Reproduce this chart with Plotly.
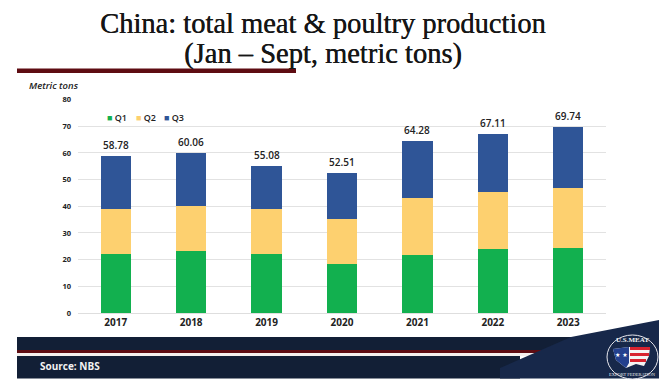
import plotly.graph_objects as go

years = ["2017", "2018", "2019", "2020", "2021", "2022", "2023"]
q1 = [22.2, 23.2, 22.2, 18.3, 21.7, 23.8, 24.3]
q2 = [16.8, 16.8, 16.8, 16.9, 21.3, 21.7, 22.4]
totals = [58.78, 60.06, 55.08, 52.51, 64.28, 67.11, 69.74]
q3 = [round(t - a - b, 2) for t, a, b in zip(totals, q1, q2)]
y_ticks = [0, 10, 20, 30, 40, 50, 60, 70, 80]

W, H = 670, 387
NAVY = "#121f36"
NAVY2 = "#17284a"
MAROON = "#5e0c12"
C1, C2, C3 = "#12b04f", "#fdd06f", "#2f5597"


def X(p):
    return p / W


def Y(p):
    return 1 - p / H


def rect(x0, y0, x1, y1, color):
    return dict(type="rect", xref="paper", yref="paper", x0=X(x0), x1=X(x1), y0=Y(y1), y1=Y(y0),
                fillcolor=color, line_width=0, layer="above")


def poly(points, color):
    path = "M " + " L ".join(f"{X(a):.5f} {Y(b):.5f}" for a, b in points) + " Z"
    return dict(type="path", xref="paper", yref="paper", path=path, fillcolor=color,
                line_width=0, layer="above")


def label(text, px, py, font, xanchor="center", angle=0):
    return dict(text=text, x=X(px), y=Y(py), xref="paper", yref="paper", xanchor=xanchor, yanchor="middle",
                showarrow=False, font=font, textangle=angle, borderpad=0)


fig = go.Figure()
for name, vals, col in [("Q1", q1, C1), ("Q2", q2, C2), ("Q3", q3, C3)]:
    fig.add_trace(go.Bar(x=years, y=vals, name=name, marker=dict(color=col, line_width=0), width=0.4,
                         showlegend=False))

shapes = [
    rect(17, 68.5, 296, 73, MAROON),
    rect(17, 337, 571, 350, NAVY),
    rect(17, 350, 556, 353, MAROON),
    rect(17, 353, 545, 356, "#f4f0ee"),
    rect(17, 356, 520, 378.5, NAVY),
    poly([(571, 337), (659, 320), (659, 378.5), (500, 378.5), (500, 368)], NAVY2),
    # logo
    dict(type="circle", xref="paper", yref="paper", x0=X(607), x1=X(658), y0=Y(379), y1=Y(335),
         line=dict(color="#e8e8ee", width=1), fillcolor=NAVY2, layer="above"),
    poly([(613, 349), (629, 347), (650, 347), (649, 356), (644, 366), (636, 364), (626, 368), (616, 360)], "#f4f4f4"),
    poly([(613, 349), (629, 347), (629, 363), (626, 368), (616, 360)], "#23408e"),
    rect(630, 347, 650, 350, "#d8232f"),
    rect(630, 353, 649, 356, "#d8232f"),
    rect(630, 359, 646, 362, "#d8232f"),
]

TITLE_FONT = dict(family="Liberation Serif", size=28.5, color="#161616", shadow="0.4px 0 0 #161616")
LEGEND_FONT = dict(family="Open Sans", size=9, color="#222222", weight=600)
annotations = [
    label("China: total meat &amp; poultry production", 323, 23, TITLE_FONT),
    label("(Jan – Sept, metric tons)", 323, 54, TITLE_FONT),
    label("<i>Metric tons</i>", 28, 85, dict(family="Open Sans", size=9.5, color="#222222", weight=600), "left"),
    label("Source: NBS", 39, 366, dict(family="Open Sans", size=10, color="#f2f2f2", weight=700), "left"),
    label("U.S.MEAT", 632, 340, dict(family="Liberation Serif", size=7, color="#f2f2f2", weight=700)),
    label("EXPORT FEDERATION", 632, 374, dict(family="Liberation Serif", size=4.5, color="#e8e8ee")),
    label("★ ★", 621, 354, dict(family="DejaVu Sans", size=6, color="#ffffff")),
]
for name, col, px in [("Q1", C1, 106), ("Q2", C2, 135), ("Q3", C3, 163)]:
    annotations.append(label(f'<span style="color:{col}">■</span> {name}', px, 117, LEGEND_FONT, "left"))
for i, t in enumerate(totals):
    annotations.append(dict(text=f"{t:.2f}", x=i, y=t, xref="x", yref="y", yanchor="bottom", yshift=2,
                            showarrow=False, font=dict(family="Open Sans", size=10, color="#222222", weight=600)))

fig.update_layout(
    width=W, height=H, autosize=False, barmode="stack", bargap=0.6, showlegend=False,
    margin=dict(l=0, r=0, t=0, b=0, pad=0, autoexpand=False), paper_bgcolor="white", plot_bgcolor="white",
    shapes=shapes, annotations=annotations,
    xaxis=dict(domain=[X(78), X(606)], type="category", range=[-0.5, 6.5], showgrid=False, ticks="", showline=True,
               linecolor="#dedede", linewidth=1,
               tickfont=dict(family="Open Sans", size=10, color="#222222", weight=700)),
    yaxis=dict(domain=[1 - 313 / H, 1 - 99.5 / H], range=[0, 80], tickvals=y_ticks, showgrid=True,
               gridcolor="#e2e2e2", gridwidth=1, zeroline=False, ticks="", ticklabelstandoff=6,
               tickfont=dict(family="Open Sans", size=7.5, color="#222222", weight=700)),
)
fig.write_html("out.html", config=dict(displayModeBar=False), post_script="document.body.style.margin='0';")
